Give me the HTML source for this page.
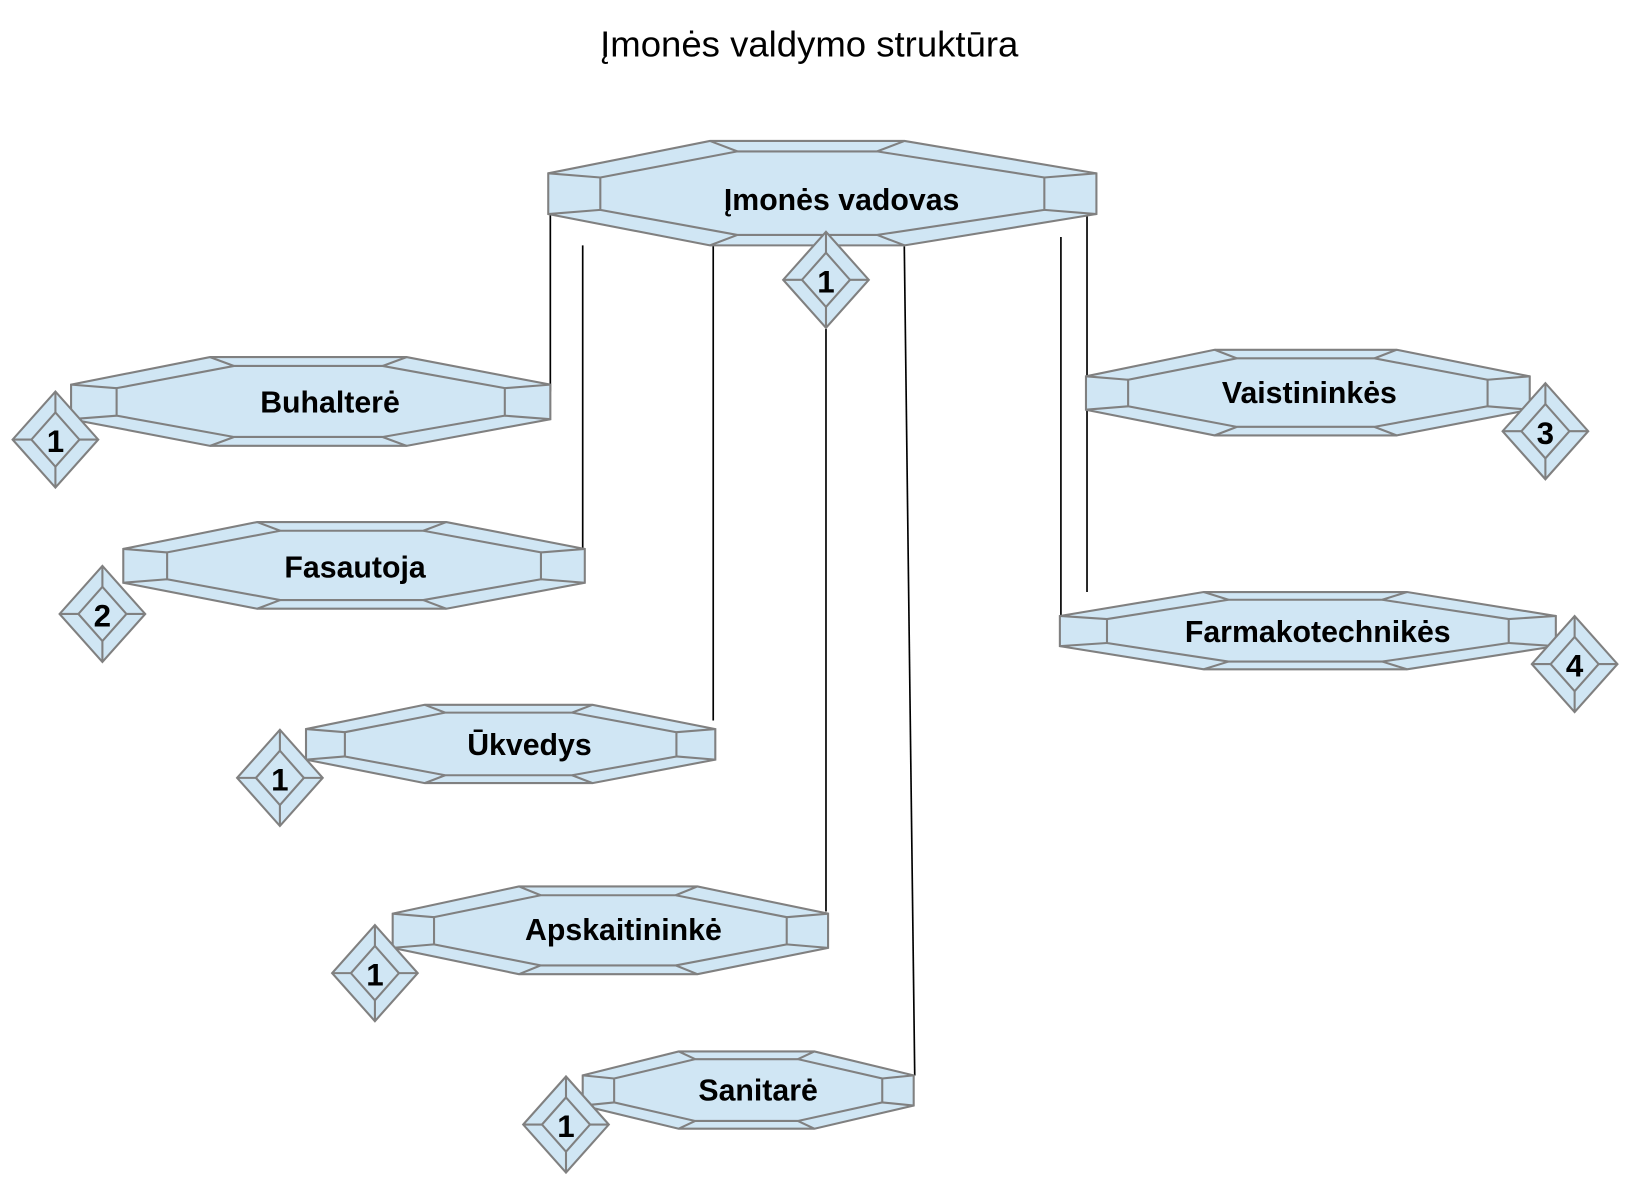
<!DOCTYPE html>
<html><head><meta charset="utf-8"><style>
html,body{margin:0;padding:0;background:#fff;width:1629px;height:1183px;overflow:hidden}
svg{display:block}
text{font-family:"Liberation Sans",Arial,sans-serif;text-anchor:middle;dominant-baseline:central}
.n{font-weight:bold;font-size:29px}
.d{font-weight:bold;font-size:30px}
</style></head><body>
<svg id="s" width="1629" height="1183" viewBox="0 0 1560 1133" xmlns="http://www.w3.org/2000/svg">
<g id="lines" stroke="#000" stroke-width="1.6">
<line x1="527" y1="168" x2="527" y2="375"/>
<line x1="558" y1="235" x2="558" y2="532"/>
<line x1="683" y1="226" x2="683" y2="690"/>
<line x1="791" y1="315" x2="791" y2="873"/>
<line x1="866" y1="236" x2="876" y2="1030"/>
<line x1="1016" y1="227" x2="1016" y2="590"/>
<line x1="1041" y1="185" x2="1041" y2="567"/>
</g>
<g id="shapes" fill="#d0e6f4" stroke="#808080" stroke-width="2" stroke-linejoin="miter"></g>
<text x="775" y="42" style="font-size:35px">Įmonės valdymo struktūra</text>
<text class="n" x="806" y="192">Įmonės vadovas</text>
<text class="n" x="316" y="386">Buhalterė</text>
<text class="n" x="340" y="544">Fasautoja</text>
<text class="n" x="507" y="714">Ūkvedys</text>
<text class="n" x="597" y="891">Apskaitininkė</text>
<text class="n" x="726" y="1045">Sanitarė</text>
<text class="n" x="1254" y="377">Vaistininkės</text>
<text class="n" x="1262" y="606">Farmakotechnikės</text>
<text class="d" x="791" y="270">1</text>
<text class="d" x="53" y="423">1</text>
<text class="d" x="98" y="590">2</text>
<text class="d" x="268" y="747">1</text>
<text class="d" x="359" y="934">1</text>
<text class="d" x="542" y="1079">1</text>
<text class="d" x="1480" y="415">3</text>
<text class="d" x="1508" y="638">4</text>
</svg>
<script>
var g=document.getElementById('shapes'),NS='http://www.w3.org/2000/svg';
function poly(p){var e=document.createElementNS(NS,'polygon');e.setAttribute('points',p.map(function(q){return q.join(',')}).join(' '));g.appendChild(e);}
function line(a,b){var e=document.createElementNS(NS,'line');e.setAttribute('x1',a[0]);e.setAttribute('y1',a[1]);e.setAttribute('x2',b[0]);e.setAttribute('y2',b[1]);g.appendChild(e);}
function oct(L,T,R,B,a,b){a=a||0.29;b=b||0.70;var W=R-L,H=B-T,yA=T+0.31*H,yB=T+0.7*H,x1=L+a*W,x2=L+b*W;
var o=[[L,yA],[x1,T],[x2,T],[R,yA],[R,yB],[x2,B],[x1,B],[L,yB]];
var iL=L+0.095*W,iR=R-0.095*W,iT=T+0.1*H,iB=B-0.1*H,iA=yA+0.04*H,iBB=yB-0.04*H,ix1=x1+0.05*W,ix2=x2-0.05*W;
var n=[[iL,iA],[ix1,iT],[ix2,iT],[iR,iA],[iR,iBB],[ix2,iB],[ix1,iB],[iL,iBB]];
poly(o);poly(n);for(var i=0;i<8;i++)line(o[i],n[i]);}
function dia(cx,cy){var w=41,h=46,iw=23,ih=26;var o=[[cx,cy-h],[cx+w,cy],[cx,cy+h],[cx-w,cy]],n=[[cx,cy-ih],[cx+iw,cy],[cx,cy+ih],[cx-iw,cy]];poly(o);poly(n);for(var i=0;i<4;i++)line(o[i],n[i]);}
oct(525,135,1050,235,0.295,0.65);
oct(68,342,527,427);
oct(118,500,560,583);
oct(293,675,685,750);
oct(376,849,793,933);
oct(558,1007,875,1081);
oct(1040,335,1465,417);
oct(1015,567,1490,641);
dia(791,268);dia(53,421);dia(98,588);dia(268,745);dia(359,932);dia(542,1077);dia(1480,413);dia(1508,636);
var s=document.getElementById('s');var ts=Array.prototype.slice.call(s.querySelectorAll('text'));ts.forEach(function(t){s.appendChild(t);});
</script>
</body></html>
